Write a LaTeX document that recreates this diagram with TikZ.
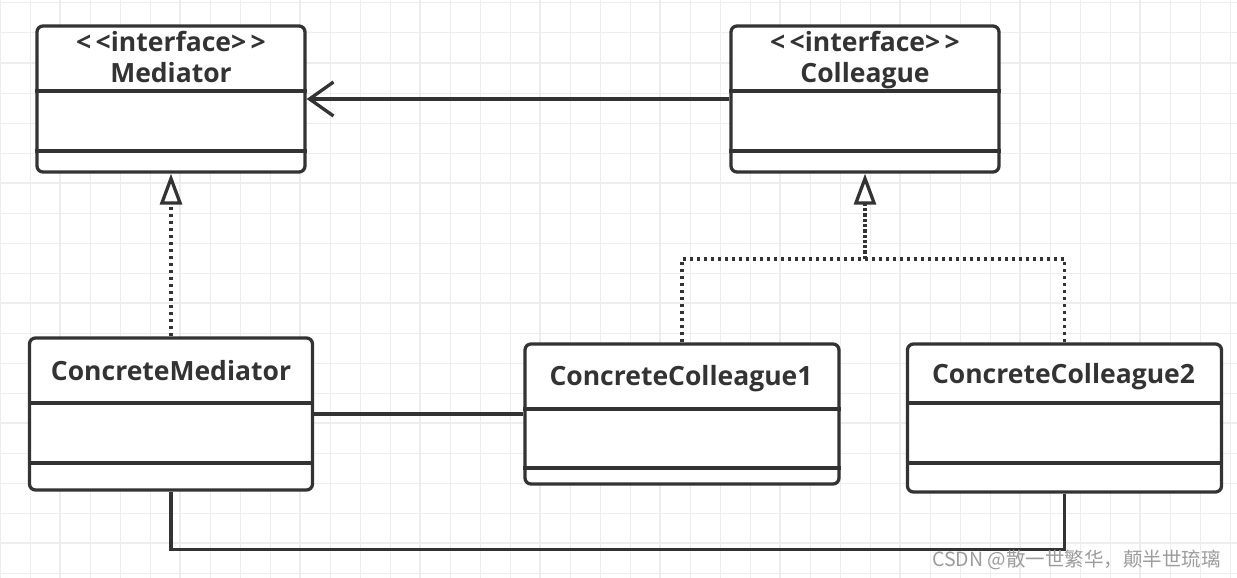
\documentclass[tikz,border=0pt]{standalone}
\usepackage{fontspec}
\setmainfont{Open Sans}
\newfontfamily\cjk{Noto Sans CJK SC}
\usetikzlibrary{arrows.meta}
\definecolor{ink}{HTML}{333333}
\definecolor{gridline}{HTML}{EDEDED}
\definecolor{wmgray}{HTML}{9C9C9C}
\newcommand{\stereo}{<\,{}<interface>{}\,>}
\tikzset{
	cls/.style={draw=ink, line width=3.3pt, rounded corners=6pt, fill=white, inner sep=0pt},
	part/.style={draw=ink, line width=3.3pt},
	title/.style={text=ink, font=\bfseries\fontsize{26.5}{30}\selectfont, anchor=base, inner sep=0pt},
	dotline/.style={draw=ink, line width=3.3pt, dash pattern=on 3.3pt off 3.7pt},
	realize/.style={dotline, -{Triangle[length=31pt,width=22pt,fill=white]}},
	assoc/.style={part, -{Straight Barb[length=24pt,width=34pt]}}
}

\begin{document}
\begin{tikzpicture}[x=1pt,y=-1pt]
				\useasboundingbox[fill=white] (0,0) rectangle (1237,578);
				% grid
				\foreach \x in {0,30,...,1230} \draw[gridline, line width=1pt] (\x,0) -- (\x,578);
				\foreach \y in {3,33,...,573} \draw[gridline, line width=1pt] (0,\y) -- (1237,\y);
				\foreach \x in {60,180,...,1140} \draw[gridline, line width=2pt] (\x,0) -- (\x,578);
				\foreach \y in {63,183,...,543} \draw[gridline, line width=2pt] (0,\y) -- (1237,\y);

				% interfaces
				\node[cls, minimum width=268pt, minimum height=146pt] (med) at (171,99) {};
				\draw[part] (med.west |- 0,91) -- (med.east |- 0,91);
				\draw[part] (med.west |- 0,151) -- (med.east |- 0,151);
				\node[title] (medStereo) at (171,52) {\stereo};
				\node[title] (medName) at (171,83) {Mediator};

				\node[cls, minimum width=268pt, minimum height=146pt] (col) at (865,99) {};
				\draw[part] (col.west |- 0,91) -- (col.east |- 0,91);
				\draw[part] (col.west |- 0,151) -- (col.east |- 0,151);
				\node[title] (colStereo) at (865,52) {\stereo};
				\node[title] (colName) at (865,83) {Colleague};

				% concrete classes
				\node[cls, minimum width=283pt, minimum height=152pt] (cm) at (171,414) {};
				\draw[part] (cm.west |- 0,403) -- (cm.east |- 0,403);
				\draw[part] (cm.west |- 0,463) -- (cm.east |- 0,463);
				\node[title] (cmName) at (171,380) {ConcreteMediator};

				\node[cls, minimum width=314pt, minimum height=140pt] (cc1) at (682,414) {};
				\draw[part] (cc1.west |- 0,409) -- (cc1.east |- 0,409);
				\draw[part] (cc1.west |- 0,468) -- (cc1.east |- 0,468);
				\node[title] (cc1Name) at (681,385) {ConcreteColleague1};

				\node[cls, minimum width=314pt, minimum height=148pt] (cc2) at (1064.5,418) {};
				\draw[part] (cc2.west |- 0,403) -- (cc2.east |- 0,403);
				\draw[part] (cc2.west |- 0,463) -- (cc2.east |- 0,463);
				\node[title] (cc2Name) at (1063.5,383) {ConcreteColleague2};

				% relations
				\draw[assoc] (col.west) -- (med.east);
				\draw[realize] (cm.north) -- (med.south);
				\coordinate (join) at (865,259);
				\draw[dotline] (cc1.north) |- (join) -| (cc2.north);
				\draw[realize, dash pattern=on 3.3pt off 2pt] (join) -- (col.south);
				\draw[part] (cm.east) -- (cc1.west);
				\draw[part] (cm.south) -- ++(0,58) -| (cc2.south);

				\node[text=wmgray, font=\cjk\fontsize{19.5}{22}\selectfont, anchor=base east, inner sep=0pt] (wm) at (1221,566) {CSDN @散一世繁华，颠半世琉璃};
			\end{tikzpicture}
\end{document}
